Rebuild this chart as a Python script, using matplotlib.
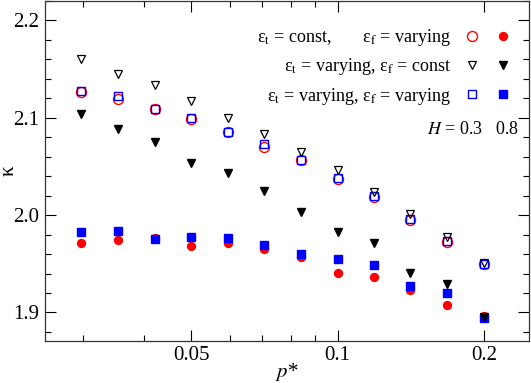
import numpy as np
import matplotlib
matplotlib.use('Agg')
import matplotlib.pyplot as plt
from matplotlib.legend_handler import HandlerTuple
from matplotlib.ticker import FixedLocator, NullFormatter, MultipleLocator

plt.rcParams['font.family'] = ['Liberation Serif', 'DejaVu Serif']
plt.rcParams['mathtext.fontset'] = 'stix'

# p* values (log-spaced in the source)
p_star = [0.0297, 0.0354, 0.042, 0.05, 0.0595, 0.0707, 0.0841, 0.1, 0.119, 0.141, 0.168, 0.2]

# eps_t const, eps_f varying
kappa_c_v_h03 = [2.126, 2.119, 2.109, 2.099, 2.085, 2.070, 2.057, 2.0375, 2.019, 1.995, 1.9725, 1.950]
kappa_c_v_h08 = [1.971, 1.974, 1.9765, 1.968, 1.971, 1.965, 1.9567, 1.941, 1.9366, 1.9226, 1.908, 1.896]
# eps_t varying, eps_f const
kappa_v_c_h03 = [2.160, 2.145, 2.134, 2.117, 2.100, 2.083, 2.065, 2.0465, 2.024, 2.001, 1.9776, 1.951]
kappa_v_c_h08 = [2.104, 2.088, 2.0755, 2.054, 2.0437, 2.0247, 2.0035, 1.9827, 1.971, 1.9407, 1.929, 1.8953]
# eps_t varying, eps_f varying
kappa_v_v_h03 = [2.128, 2.1225, 2.1086, 2.100, 2.0854, 2.073, 2.0567, 2.038, 2.020, 1.9963, 1.9735, 1.9503]
kappa_v_v_h08 = [1.983, 1.984, 1.975, 1.9776, 1.977, 1.9694, 1.960, 1.955, 1.949, 1.9277, 1.920, 1.894]

labels = [r'ε$_\mathrm{t}$ = const,       ε$_\mathrm{f}$ = varying',
          r'ε$_\mathrm{t}$ = varying, ε$_\mathrm{f}$ = const',
          r'ε$_\mathrm{t}$ = varying, ε$_\mathrm{f}$ = varying']

fig = plt.figure(figsize=(5.31, 3.83), dpi=100)
ax = fig.add_axes([45 / 531, 1 - 340.7 / 383, 483.5 / 531, 339.7 / 383])

red = '#ff0000'
blue = '#0000ff'
ms_c = 7.2
ms_s = 6.0
ms_t = 6.0

c_open, = ax.plot(p_star, kappa_c_v_h03, 'o', ms=ms_c, mfc='none', mec=red, mew=1.0, ls='none')
c_fill, = ax.plot(p_star, kappa_c_v_h08, 'o', ms=ms_c - 1.5, mfc=red, mec=red, ls='none')
s_open, = ax.plot(p_star, kappa_v_v_h03, 's', ms=ms_s, mfc='none', mec=blue, mew=1.0, ls='none')
s_fill, = ax.plot(p_star, kappa_v_v_h08, 's', ms=ms_s - 0.5, mfc=blue, mec=blue, ls='none')
t_open, = ax.plot(p_star, kappa_v_c_h03, 'v', ms=ms_t, mfc='none', mec='black', mew=0.9, ls='none')
t_fill, = ax.plot(p_star, kappa_v_c_h08, 'v', ms=ms_t, mfc='black', mec='black', ls='none')

ax.set_xscale('log')
ax.set_xlim(0.025, 0.247)
ax.set_ylim(1.871, 2.22)

ax.xaxis.set_major_locator(FixedLocator([0.05, 0.1, 0.2]))
ax.set_xticklabels(['0.05', '0.1', '0.2'])
ax.xaxis.set_minor_locator(FixedLocator([0.03, 0.04, 0.06, 0.07, 0.08, 0.09]))
ax.xaxis.set_minor_formatter(NullFormatter())
ax.yaxis.set_major_locator(MultipleLocator(0.1))
ax.yaxis.set_minor_locator(MultipleLocator(0.02))
ax.set_yticks([1.9, 2.0, 2.1, 2.2])
ax.set_yticklabels(['1.9', '2.0', '2.1', '2.2'])

ax.tick_params(which='both', direction='in', top=True, right=True, labelsize=15, pad=4)
ax.tick_params(which='major', length=8, width=0.8)
ax.tick_params(which='minor', length=4.5, width=0.8)
for s in ax.spines.values():
    s.set_linewidth(0.9)
    s.set_color('#333333')

ax.set_xlabel('$p$*', fontsize=15, labelpad=-3)
ax.set_ylabel('κ', fontsize=15, labelpad=-4)

leg = ax.legend([(c_open, c_fill), (t_open, t_fill), (s_open, s_fill)], labels,
                handler_map={tuple: HandlerTuple(ndivide=None, pad=0)},
                loc='upper right', bbox_to_anchor=(0.987, 0.933), frameon=False,
                markerfirst=False, fontsize=13, handlelength=3.43, handletextpad=0.3,
                labelspacing=0.45, borderpad=0.2, borderaxespad=0)

ax.text(0.98, 0.623, '$H$ = 0.3   0.8', transform=ax.transAxes, ha='right', va='center', fontsize=13)

fig.savefig('out.png', dpi=100)
